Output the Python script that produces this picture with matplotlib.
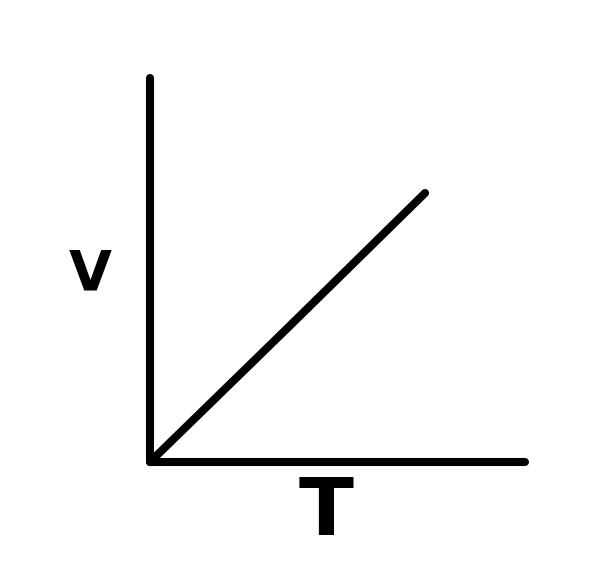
import matplotlib.pyplot as plt

# sketch of V against T (straight line through the origin)
T = [0, 3.7, 7.33]
V = [0, 3.52, 7.0]
x_label = "T"
y_label = "V"

fig = plt.figure(figsize=(6.15, 5.76), dpi=100)
ax = fig.add_axes([0.244, 0.198, 0.61, 0.667])

ax.plot(T, V, color='black', linewidth=5.8, solid_capstyle='round', solid_joinstyle='round')
ax.set_xlim(0, 10)
ax.set_ylim(0, 10)

for side in ['top', 'right']:
    ax.spines[side].set_visible(False)
for side in ['left', 'bottom']:
    ax.spines[side].set_linewidth(5.8)
    ax.spines[side].set_capstyle('round')
ax.set_xticks([])
ax.set_yticks([])

fig.text(0.146, 0.523, y_label, fontsize=40, fontweight='bold', ha='center', va='center')
fig.text(0.53, 0.11, x_label, fontsize=58, fontweight='bold', ha='center', va='center')

plt.savefig("out.png", dpi=100)
